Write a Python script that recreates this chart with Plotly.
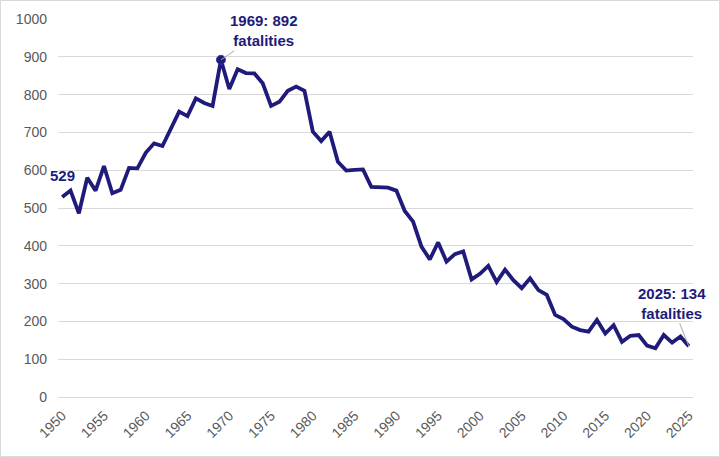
import plotly.graph_objects as go

years = list(range(1950, 2026))
fatalities = [
    529, 546, 486, 580, 546, 611, 539, 548, 606, 605,
    646, 671, 664, 712, 755, 743, 790, 778, 770, 892,
    815, 867, 857, 856, 830, 770, 781, 810, 821, 810,
    702, 677, 702, 622, 599, 601, 602, 556, 555, 554,
    546, 492, 464, 398, 364, 409, 358, 378, 385, 311,
    326, 347, 304, 337, 309, 288, 314, 283, 270, 217,
    206, 186, 177, 173, 204, 168, 190, 146, 162, 164,
    136, 129, 164, 144, 160, 134,
]
x_ticks = list(range(1950, 2026, 5))
y_ticks = list(range(0, 1001, 100))

navy = "#1E1B7B"
grey_text = "#595959"
grid = "#D9D9D9"
font_family = "Liberation Sans, Arial, sans-serif"

peak_i = fatalities.index(max(fatalities))

fig = go.Figure()
fig.add_trace(go.Scatter(
    x=years, y=fatalities, mode="lines",
    line=dict(color=navy, width=3.8),
    hoverinfo="x+y", showlegend=False,
))
fig.add_trace(go.Scatter(
    x=[years[peak_i]], y=[fatalities[peak_i]], mode="markers",
    marker=dict(color=navy, size=9, line=dict(color="#3A38A0", width=1)),
    showlegend=False,
))

W, H = 720, 457
L, R, T, B = 58, 27, 19, 60
pw, ph = W - L - R, H - T - B

fig.update_layout(
    width=W, height=H,
    margin=dict(l=L, r=R, t=T, b=B, autoexpand=False),
    paper_bgcolor="white", plot_bgcolor="white",
    font=dict(family=font_family, size=14, color=grey_text),
    xaxis=dict(
        range=[1949.5, 2025.5], tickvals=x_ticks, ticktext=[str(v) for v in x_ticks],
        tickangle=-45, showgrid=False, zeroline=False, automargin=False,
        showline=True, linecolor=grid, linewidth=1,
        ticks="outside", ticklen=4, tickcolor="rgba(0,0,0,0)",
        tickfont=dict(size=14, color=grey_text),
    ),
    yaxis=dict(
        range=[0, 1000], tickvals=y_ticks, showgrid=True, gridcolor=grid, gridwidth=1,
        zeroline=False, showline=False, ticks="", ticklabelstandoff=10, automargin=False,
        tickfont=dict(size=14, color=grey_text),
    ),
    shapes=[dict(
        type="rect", xref="paper", yref="paper",
        x0=-(L - 0.5) / pw, x1=1 + (R - 0.5) / pw,
        y0=-(B - 0.5) / ph, y1=1 + (T - 0.5) / ph,
        line=dict(color=grid, width=1), fillcolor="rgba(0,0,0,0)", layer="below",
    )],
    annotations=[
        dict(x=years[0], y=fatalities[0], text=f"<b>{fatalities[0]}</b>", showarrow=False,
             xanchor="center", yanchor="bottom", yshift=11,
             font=dict(family=font_family, size=15, color=navy)),
        dict(x=years[peak_i], y=fatalities[peak_i],
             text=f"<b>{years[peak_i]}: {fatalities[peak_i]}<br>fatalities</b>",
             showarrow=True, arrowhead=0, arrowwidth=1, arrowcolor="#A6A6A6",
             ax=43, ay=-29, font=dict(family=font_family, size=15, color=navy)),
        dict(x=years[-1], y=fatalities[-1],
             text=f"<b>{years[-1]}: {fatalities[-1]}<br>fatalities</b>",
             showarrow=True, arrowhead=0, arrowwidth=1, arrowcolor="#A6A6A6",
             ax=-17, ay=-43, font=dict(family=font_family, size=15, color=navy)),
    ],
)

fig.write_html(
    "out.html",
    config={"displayModeBar": False},
    post_script="document.body.style.margin='0';document.body.style.overflow='hidden';",
)
